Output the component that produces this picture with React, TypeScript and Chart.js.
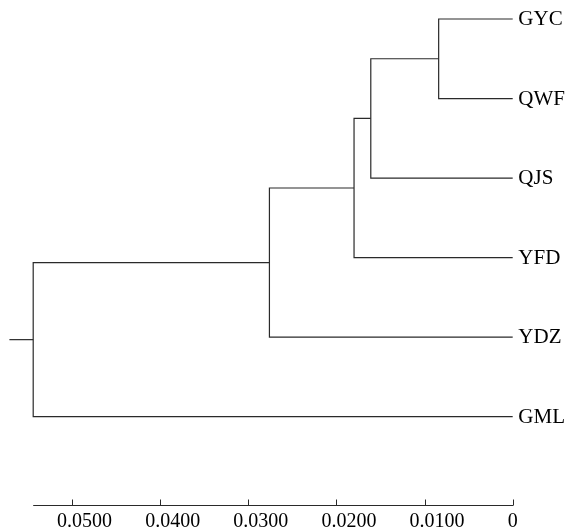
import React, { useEffect, useRef } from "react";
import { Chart, registerables } from "chart.js";

Chart.register(...registerables);

// Leaves (top to bottom)
const leaves = ["GYC", "QWF", "QJS", "YFD", "YDZ", "GML"];
// Agglomerative merges: left child, right child, resulting node, merge distance
const mergeLeft = ["GYC", "N1", "N2", "N3", "N4"];
const mergeRight = ["QWF", "QJS", "YFD", "YDZ", "GML"];
const mergeNames = ["N1", "N2", "N3", "N4", "N5"];
const mergeHeights = [0.0084, 0.0161, 0.018, 0.0276, 0.0544];
const rootStubHeight = 0.0571;
// Axis ticks
const tickValues = [0.05, 0.04, 0.03, 0.02, 0.01, 0];
const tickLabels = ["0.0500", "0.0400", "0.0300", "0.0200", "0.0100", "0"];

const LINE_COLOR = "#2a2a2a";
const FONT_FAMILY = "'Liberation Serif', 'Times New Roman', Times, serif";

function buildSegments() {
  const nodes: Record<string, { x: number; y: number }> = {};
  leaves.forEach((name, i) => {
    nodes[name] = { x: 0, y: i };
  });
  const segments: { x: number; y: number }[][] = [];
  mergeNames.forEach((name, k) => {
    const l = nodes[mergeLeft[k]];
    const r = nodes[mergeRight[k]];
    const h = mergeHeights[k];
    segments.push([
      { x: l.x, y: l.y },
      { x: h, y: l.y },
      { x: h, y: r.y },
      { x: r.x, y: r.y },
    ]);
    nodes[name] = { x: h, y: (l.y + r.y) / 2 };
  });
  const root = nodes[mergeNames[mergeNames.length - 1]];
  segments.push([
    { x: root.x, y: root.y },
    { x: rootStubHeight, y: root.y },
  ]);
  return segments;
}

const dendroPlugin = {
  id: "dendroDecor",
  afterDraw(chart: any) {
    const { ctx, chartArea } = chart;
    const xs = chart.scales.x;
    const ys = chart.scales.y;
    ctx.save();
    // Leaf labels
    ctx.fillStyle = "#000";
    ctx.font = `21px ${FONT_FAMILY}`;
    ctx.textAlign = "left";
    ctx.textBaseline = "middle";
    const x0 = xs.getPixelForValue(0);
    leaves.forEach((name, i) => {
      ctx.fillText(name, x0 + 5.6, ys.getPixelForValue(i) + 0.5);
    });
    // Axis
    const axisY = Math.round(chartArea.bottom + 88) + 0.5;
    const xLeft = xs.getPixelForValue(xs.max);
    const xRight = xs.getPixelForValue(0);
    ctx.strokeStyle = LINE_COLOR;
    ctx.lineWidth = 1;
    ctx.beginPath();
    ctx.moveTo(xLeft, axisY);
    ctx.lineTo(xRight + 0.5, axisY);
    tickValues.forEach((v) => {
      const px = Math.round(xs.getPixelForValue(v)) + 0.5;
      ctx.moveTo(px, axisY);
      ctx.lineTo(px, axisY - 6);
    });
    ctx.stroke();
    ctx.font = `20px ${FONT_FAMILY}`;
    ctx.textAlign = "center";
    ctx.textBaseline = "alphabetic";
    tickValues.forEach((v, i) => {
      const label = tickLabels[i];
      const shift = label.length > 1 ? 12.5 : 0;
      ctx.fillText(label, xs.getPixelForValue(v) + shift, axisY + 21);
    });
    ctx.restore();
  },
};

export default function App() {
  const canvasRef = useRef<HTMLCanvasElement | null>(null);

  useEffect(() => {
    const canvas = canvasRef.current;
    if (!canvas) return;
    const segments = buildSegments();
    const chart = new Chart(canvas, {
      type: "scatter",
      data: {
        datasets: segments.map((seg) => ({
          data: seg,
          showLine: true,
          borderColor: LINE_COLOR,
          borderWidth: 1.2,
          pointRadius: 0,
          pointHoverRadius: 0,
          fill: false,
          tension: 0,
          clip: false as any,
        })),
      },
      options: {
        responsive: false,
        animation: false,
        devicePixelRatio: 1,
        layout: {
          padding: { left: 33.2, right: 53.3, top: 19, bottom: 112.3 },
        },
        plugins: {
          legend: { display: false },
          tooltip: { enabled: false },
        },
        events: [],
        scales: {
          x: {
            type: "linear",
            reverse: true,
            min: 0,
            max: mergeHeights[mergeHeights.length - 1],
            display: false,
          },
          y: {
            type: "linear",
            reverse: true,
            min: 0,
            max: leaves.length - 1,
            display: false,
          },
        },
      },
      plugins: [dendroPlugin],
    });
    return () => chart.destroy();
  }, []);

  return (
    <div
      style={{
        position: "fixed",
        left: 0,
        top: 0,
        width: 566,
        height: 529,
        background: "#fff",
      }}
    >
      <canvas ref={canvasRef} width={566} height={529} style={{ display: "block" }} />
    </div>
  );
}
